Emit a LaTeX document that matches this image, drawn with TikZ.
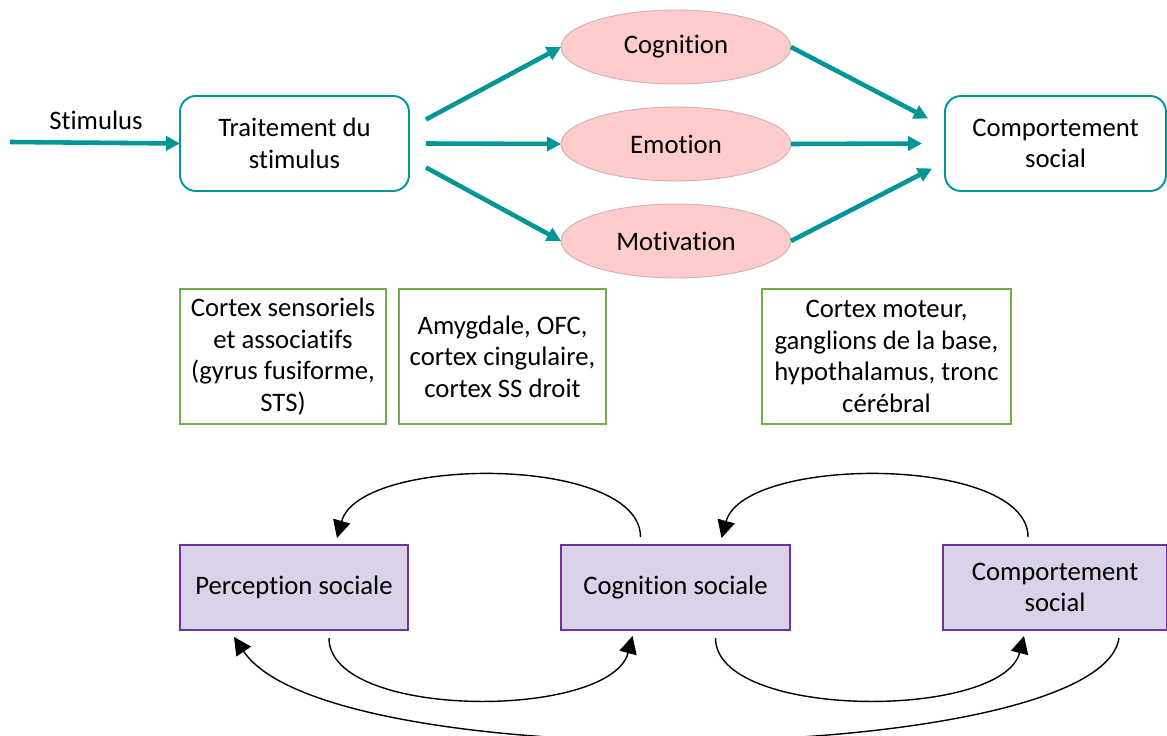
\documentclass[tikz,border=0pt]{standalone}
\usepackage{fontspec}
\setmainfont{Carlito}[RawFeature=-liga]
\usepackage{tikz}
\usetikzlibrary{calc, positioning, arrows.meta, shapes.geometric}

\definecolor{tealline}{RGB}{0,150,150}
\definecolor{pinkfill}{RGB}{255,204,204}
\definecolor{pinkline}{RGB}{205,175,175}
\definecolor{greenline}{RGB}{112,173,71}
\definecolor{purpleline}{RGB}{112,48,160}
\definecolor{purplefill}{RGB}{217,210,233}

\begin{document}
\begin{tikzpicture}[
    x=0.02cm, y=-0.02cm,
    font=\fontsize{15.2}{17.9}\selectfont,
    every node/.style={inner sep=0pt, outer sep=0pt, align=center},
    tealbox/.style={draw=tealline, line width=1.1pt, rounded corners=9pt, minimum height=1.9cm},
    proc/.style={ellipse, draw=pinkline, line width=0.5pt, fill=pinkfill, minimum width=4.6cm, minimum height=1.48cm},
    tealarrow/.style={draw=tealline, line width=2.6pt, -{Triangle[length=8pt, width=8pt]}},
    areabox/.style={draw=greenline, line width=1pt, minimum height=2.7cm},
    socbox/.style={draw=purpleline, line width=1pt, fill=purplefill, minimum height=1.7cm},
    loop/.style={line width=0.8pt, -{Triangle[length=10pt, width=10pt]}}
]

    % Frame
    \useasboundingbox (0,0) rectangle (1167,736);

    % Top row: stimulus chain
    \node (stim) at (96,120) {Stimulus};
    \node[tealbox, minimum width=4.58cm] (trait) at (294.5,143.5) {Traitement du\\stimulus};
    \node[proc] (cog) at (676,47) {Cognition};
    \node[proc] (emo) at (676,144) {Emotion};
    \node[proc] (mot) at (676,241) {Motivation};
    \node[tealbox, minimum width=4.42cm] (comp) at (1055.5,143.5) {Comportement\\social};

    % Free arrow ends
    \coordinate (in) at (10,142);
    \coordinate (tA) at ($(trait.east)+(17,-24)$);
    \coordinate (tB) at ($(trait.east)+(17,0)$);
    \coordinate (tC) at ($(trait.east)+(17,24)$);
    \coordinate (cA) at ($(comp.west)+(-17,-25)$);
    \coordinate (cB) at ($(comp.west)+(-23,0)$);
    \coordinate (cC) at ($(comp.west)+(-13,25)$);

    % Teal arrows
    \draw[tealarrow] (in) -- (trait.west);
    \draw[tealarrow] (tA) -- (cog.west);
    \draw[tealarrow] (tB) -- (emo.west);
    \draw[tealarrow] (tC) -- (mot.west);
    \draw[tealarrow] (cog.east) -- (cA);
    \draw[tealarrow] (emo.east) -- (cB);
    \draw[tealarrow] (mot.east) -- (cC);

    % Brain areas
    \node[areabox, minimum width=4.12cm] (area1) at (283,356.5) {Cortex sensoriels\\et associatifs\\(gyrus fusiforme,\\STS)};
    \node[areabox, minimum width=4.14cm] (area2) at (502.5,356.5) {Amygdale, OFC,\\cortex cingulaire,\\cortex SS droit};
    \node[areabox, minimum width=4.98cm] (area3) at (886.5,356.5) {Cortex moteur,\\ganglions de la base,\\hypothalamus, tronc\\cérébral};

    % Bottom row: social loop
    \node[socbox, minimum width=4.56cm] (perc) at (294,587.5) {Perception sociale};
    \node[socbox, minimum width=4.58cm] (cogsoc) at (675.5,587.5) {Cognition sociale};
    \node[socbox, minimum width=4.48cm] (compsoc) at (1055,587.5) {Comportement\\social};

    % Feedback arcs (top)
    \draw[loop] ($(cogsoc.north)+(-35,-8)$) .. controls +(0,-82) and +(23,-83) .. ($(perc.north)+(43,-7)$);
    \draw[loop] ($(compsoc.north)+(-27,-8)$) .. controls +(0,-82) and +(23,-83) .. ($(cogsoc.north)+(46,-7)$);

    % Forward arcs (bottom)
    \draw[loop] ($(perc.south)+(35,8)$) .. controls +(0,82) and +(-22,84) .. ($(cogsoc.south)+(-43,6)$);
    \draw[loop] ($(cogsoc.south)+(40,8)$) .. controls +(0,82) and +(-22,84) .. ($(compsoc.south)+(-31,6)$);
    \draw[loop] ($(compsoc.south)+(64,8)$) .. controls +(-19,128) and +(96,143) .. ($(perc.south)+(-60,7)$);

\end{tikzpicture}
\end{document}
